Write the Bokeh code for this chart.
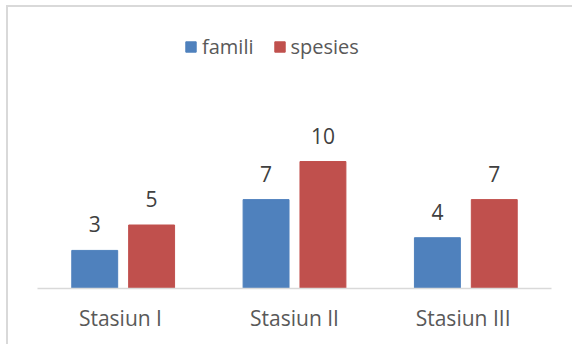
from bokeh.plotting import figure
from bokeh.layouts import column
from bokeh.models import ColumnDataSource, FactorRange, Range1d, Legend, LegendItem, InlineStyleSheet
from bokeh.transform import dodge
from bokeh.core.properties import value
from bokeh.embed import file_html
from bokeh.resources import INLINE

categories = ["Stasiun  I", "Stasiun II", "Stasiun  III"]
famili = [3, 7, 4]
spesies = [5, 10, 7]
series_names = ["famili", "spesies"]
colors = ["#4F81BD", "#C0504D"]

src = ColumnDataSource(dict(
    cat=categories, famili=famili, spesies=spesies,
    famili_lbl=[str(v) for v in famili],
    spesies_lbl=[str(v) for v in spesies],
))

p = figure(width=566, height=339, output_backend="svg", toolbar_location=None,
           x_range=FactorRange(*categories, range_padding=0), y_range=Range1d(0, 22.13),
           min_border_left=29, min_border_right=23, min_border_top=0, min_border_bottom=58)

p.outline_line_color = None
p.background_fill_color = "white"
p.border_fill_color = "white"
p.xgrid.visible = False
p.ygrid.visible = False
p.yaxis.visible = False

FONT = "Open Sans"
offs = [-0.166, 0.166]
renderers = []
for name, off, col in zip(series_names, offs, colors):
    r = p.vbar(x=dodge("cat", off, range=p.x_range), top=name, width=0.268, bottom=0,
               source=src, fill_color=col, line_color=col, line_width=1)
    renderers.append(r)
    p.text(x=dodge("cat", off, range=p.x_range), y=name, text=name + "_lbl", source=src,
           text_align="center", text_baseline="alphabetic", y_offset=-26,
           text_font=value(FONT), text_font_size="21px", text_color="#404040")

ax = p.xaxis[0]
ax.axis_line_color = "#D9D9D9"
ax.axis_line_width = 1.5
ax.major_tick_line_color = None
ax.minor_tick_line_color = None
ax.major_label_text_font = FONT
ax.major_label_text_font_size = "21px"
ax.major_label_text_color = "#595959"
ax.major_label_standoff = 9
ax.group_text_font_size = "0px"

legend = Legend(items=[LegendItem(label=n, renderers=[r]) for n, r in zip(series_names, renderers)],
                orientation="horizontal", location=(147, 228),
                glyph_width=13, glyph_height=13, label_standoff=5, spacing=19,
                padding=0, margin=0, border_line_color=None, background_fill_alpha=0,
                label_text_font=FONT, label_text_font_size="20px", label_text_color="#595959")
p.add_layout(legend, "center")

layout = column(p, width=566, height=339, margin=(7, 0, 0, 8),
                stylesheets=[InlineStyleSheet(css=":host { box-shadow: -2px -2px 0 0 #D9D9D9; }")])

open("out.html", "w").write(file_html(layout, INLINE))
